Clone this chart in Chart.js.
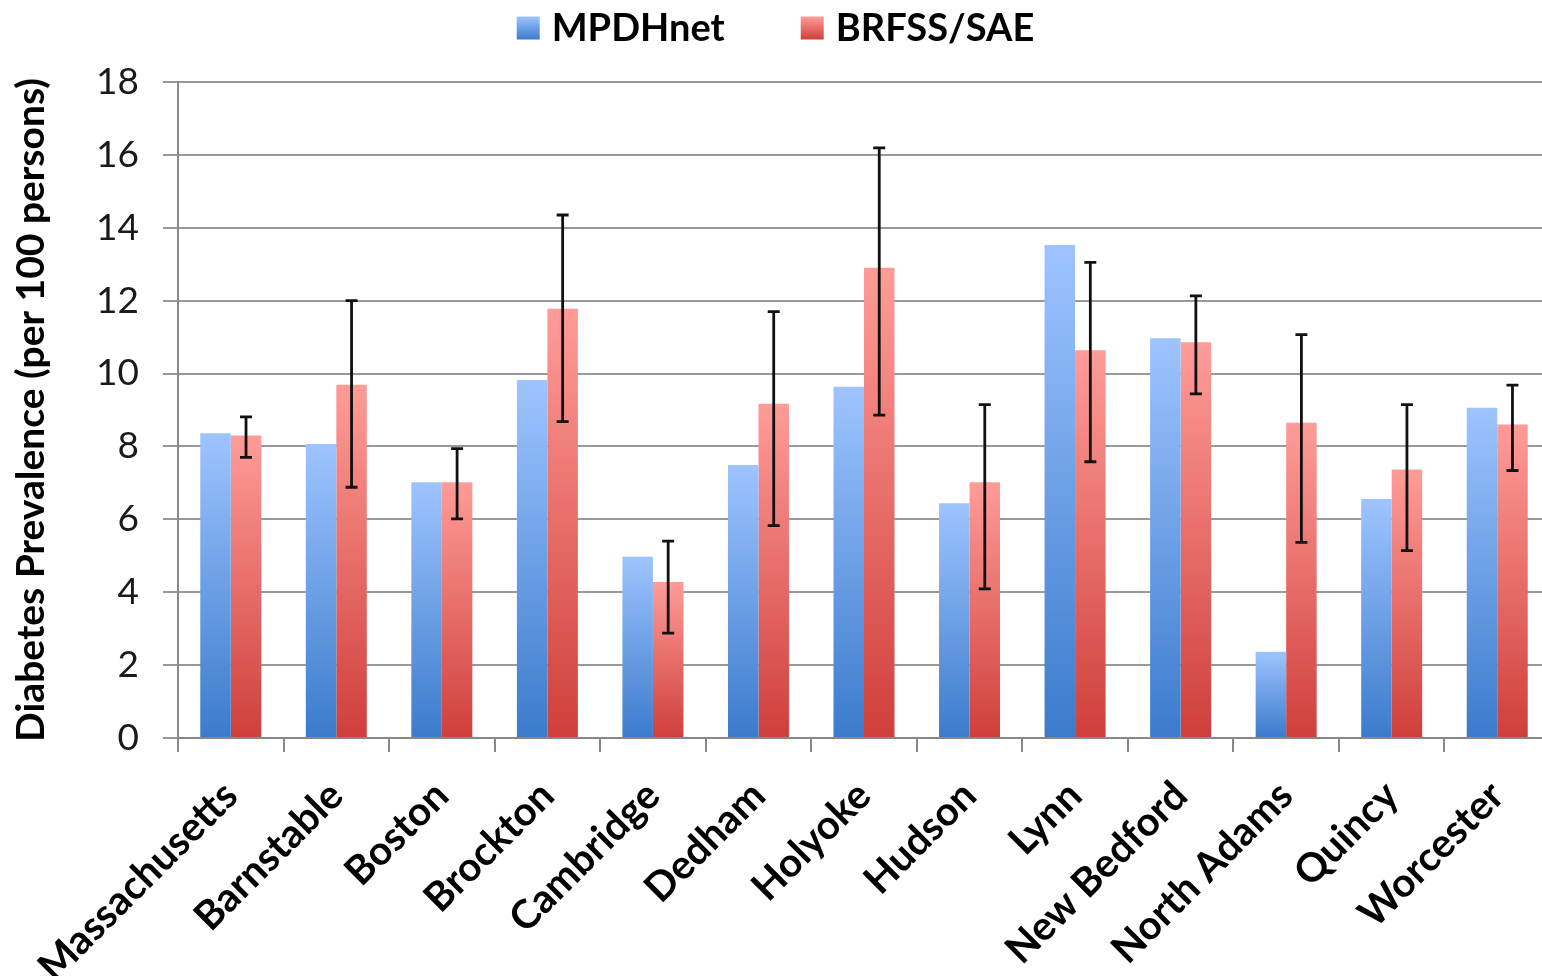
<!DOCTYPE html>
<html>
<head>
<meta charset="utf-8">
<script src="https://cdn.jsdelivr.net/npm/chart.js@4.4.1/dist/chart.umd.min.js"></script>
<style>
  html,body{margin:0;padding:0;background:#fff;overflow:hidden;}
  #wrap{width:1551px;height:976px;position:relative;}
</style>
</head>
<body>
<div id="wrap"><canvas id="myChart"></canvas></div>
<script>
'use strict';
const places=['Massachusetts','Barnstable','Boston','Brockton','Cambridge','Dedham','Holyoke','Hudson','Lynn','New Bedford','North Adams','Quincy','Worcester'];
const mpdhnet=[8.36,8.07,7.02,9.82,4.97,7.49,9.64,6.44,13.53,10.97,2.37,6.56,9.06];
const brfss=[8.30,9.69,7.02,11.78,4.28,9.17,12.90,7.02,10.64,10.86,8.65,7.37,8.60];
const brfssLow=[7.70,6.88,6.01,8.68,2.88,5.83,8.86,4.09,7.58,9.44,5.37,5.14,7.34];
const brfssHigh=[8.81,12.00,7.94,14.35,5.40,11.70,16.19,9.15,13.05,12.13,11.07,9.15,9.68];
const yTicks=[0,2,4,6,8,10,12,14,16,18];
const seriesColors=[['#9ec4ff','#3b7bcc'],['#ff9c98','#cf3f3b']];

const fontFam='Lato, "Open Sans", sans-serif';

// gradient per bar, light on top, dark at the bottom
function barGradient(lightCol,darkCol){
  return function(ctx){
    let chart=ctx.chart;
    if(ctx.type!=='data' || !chart.chartArea){ return darkCol; }
    let y=chart.scales.y;
    let top=y.getPixelForValue(ctx.raw);
    let base=y.getPixelForValue(0);
    if(!isFinite(top) || base-top<1){ return darkCol; }
    let g=chart.ctx.createLinearGradient(0,top,0,base);
    g.addColorStop(0,lightCol);
    g.addColorStop(1,darkCol);
    return g;
  };
}

const errorBars={
  id:'errorBars',
  afterDatasetsDraw(chart){
    let meta=chart.getDatasetMeta(1);
    let y=chart.scales.y;
    let c=chart.ctx;
    c.save();
    c.strokeStyle='#111';
    c.lineWidth=2.8;
    for(let i=0;i<places.length;i++){
      let x=meta.data[i].x;
      let y1=y.getPixelForValue(brfssLow[i]);
      let y2=y.getPixelForValue(brfssHigh[i]);
      c.beginPath();
      c.moveTo(x,y1); c.lineTo(x,y2);
      c.moveTo(x-6,y1); c.lineTo(x+6,y1);
      c.moveTo(x-6,y2); c.lineTo(x+6,y2);
      c.stroke();
    }
    c.restore();
  }
};

// simple legend on top, centered
const topLegend={
  id:'topLegend',
  afterDraw(chart){
    let c=chart.ctx;
    let sets=chart.data.datasets;
    let box=23, gapText=12, gapItem=76, midY=28;
    c.save();
    c.font='bold 38px '+fontFam;
    c.textBaseline='middle';
    c.fillStyle='#000';
    let total=0;
    sets.forEach((d,i)=>{
      total+=box+gapText+c.measureText(d.label).width;
      if(i<sets.length-1) total+=gapItem;
    });
    let x=(chart.width-total)/2;
    sets.forEach((d,i)=>{
      let g=c.createLinearGradient(0,midY-box/2,0,midY+box/2);
      g.addColorStop(0,seriesColors[i][0]);
      g.addColorStop(1,seriesColors[i][1]);
      c.fillStyle=g;
      c.fillRect(x,midY-box/2,box,box);
      x+=box+gapText;
      c.fillStyle='#000';
      c.fillText(d.label,x,midY+1);
      x+=c.measureText(d.label).width+gapItem;
    });
    c.restore();
  }
};

let ctx=document.getElementById('myChart').getContext('2d');
let chart=new Chart(ctx,{
  type:'bar',
  data:{
    labels:places,
    datasets:[{
      label:'MPDHnet',
      data:mpdhnet,
      backgroundColor:barGradient(seriesColors[0][0],seriesColors[0][1]),
      borderWidth:0,
      categoryPercentage:0.578,
      barPercentage:1
    },{
      label:'BRFSS/SAE',
      data:brfss,
      backgroundColor:barGradient(seriesColors[1][0],seriesColors[1][1]),
      borderWidth:0,
      categoryPercentage:0.578,
      barPercentage:1
    }]
  },
  options:{
    responsive:true,
    maintainAspectRatio:false,
    animation:false,
    devicePixelRatio:1,
    layout:{padding:{left:0,right:1,top:82,bottom:0}},
    plugins:{
      legend:{display:false},
      tooltip:{enabled:false}
    },
    scales:{
      x:{
        offset:true,
        grid:{display:true,drawOnChartArea:false,drawTicks:true,tickLength:14,color:'#888',lineWidth:2,offset:true},
        border:{display:true,color:'#888',width:2},
        ticks:{
          color:'#000',
          maxRotation:45,
          minRotation:45,
          padding:20,
          font:{family:fontFam,size:40,weight:'bold'}
        },
        afterFit(scale){ scale.height=238; scale.paddingLeft=0; scale.paddingRight=0; }
      },
      y:{
        min:0,
        max:18,
        afterBuildTicks(scale){ scale.ticks=yTicks.map(v=>({value:v})); },
        grid:{color:'#999',lineWidth:2,tickLength:15},
        border:{display:true,color:'#888',width:2},
        ticks:{
          color:'#1a1a1a',
          padding:24,
          font:{family:fontFam,size:37}
        },
        title:{
          display:true,
          text:'Diabetes Prevalence (per 100 persons)',
          color:'#000',
          padding:{top:8,bottom:0},
          font:{family:fontFam,size:39,weight:'bold'}
        },
        afterFit(scale){ scale.width=178; }
      }
    }
  },
  plugins:[errorBars,topLegend]
});
</script>
</body>
</html>
